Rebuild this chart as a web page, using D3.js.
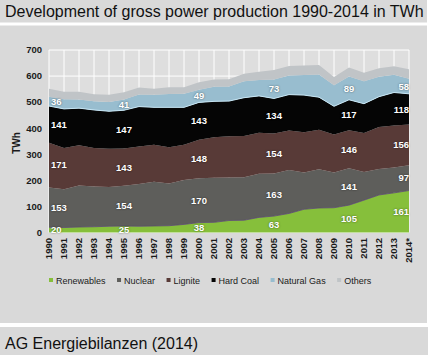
<!DOCTYPE html>
<html><head><meta charset="utf-8">
<script src="https://cdn.jsdelivr.net/npm/d3@7/dist/d3.min.js"></script>
<style>
html,body{margin:0;padding:0;background:#fff;}
svg{display:block;font-family:Arial,"Liberation Sans",sans-serif;}
.lbl{text-shadow:0 0 2px rgba(0,0,0,0.55);}
</style></head>
<body><svg id="c" width="430" height="355"></svg>
<script>
const years = [1990,1991,1992,1993,1994,1995,1996,1997,1998,1999,2000,2001,2002,2003,2004,2005,2006,2007,2008,2009,2010,2011,2012,2013,2014];
const yearLabels = ["1990","1991","1992","1993","1994","1995","1996","1997","1998","1999","2000","2001","2002","2003","2004","2005","2006","2007","2008","2009","2010","2011","2012","2013","2014*"];
const renewables = [20,19,21,22,24,25,24,25,26,31,38,39,46,47,58,63,73,89,94,95,105,124,144,152,161];
const nuclear    = [153,147,159,154,151,154,162,170,162,170,170,171,165,165,167,163,167,141,149,135,141,108,100,97,97];
const lignite    = [171,158,155,148,146,143,144,142,139,136,148,155,158,158,158,154,151,155,151,146,146,150,161,161,156];
const hardCoal   = [141,150,142,146,144,147,153,143,153,143,143,138,135,147,141,134,138,142,125,108,117,112,116,127,118];
const naturalGas = [36,37,33,33,36,41,46,48,51,52,49,56,56,63,61,73,73,77,87,81,89,86,76,68,58];
const others     = [30,29,30,27,27,28,27,23,26,25,28,28,28,29,32,36,37,37,36,31,35,33,33,33,36];
const seriesNames = ["Renewables","Nuclear","Lignite","Hard Coal","Natural Gas","Others"];
const yTicks = [0,100,200,300,400,500,600,700];
const labelYears = [1990,1995,2000,2005,2010,2014];

const colors = ["#86bf3b","#5e5e5b","#583a37","#050505","#98bdcf","#c0c4c7"];
const seriesData = [renewables,nuclear,lignite,hardCoal,naturalGas,others];

const svg = d3.select("#c");
const bg = "#d9d9d9";
svg.append("rect").attr("x",0).attr("y",0).attr("width",427).attr("height",22.5).attr("fill",bg);
svg.append("rect").attr("x",0).attr("y",25.5).attr("width",427).attr("height",297.5).attr("fill",bg);
svg.append("rect").attr("x",0).attr("y",327).attr("width",428).attr("height",28).attr("fill",bg);
svg.append("text").attr("x",5).attr("y",16.5).attr("font-size",16).attr("fill","#111")
  .text("Development of gross power production 1990-2014 in TWh");
svg.append("text").attr("x",5).attr("y",348.5).attr("font-size",16).attr("fill","#111")
  .text("AG Energiebilanzen (2014)");

const x = d3.scaleLinear().domain([1990,2014]).range([49,409]);
const y = d3.scaleLinear().domain([0,700]).range([232.5,50]);

// plot background + grid
svg.append("rect").attr("x",x(1990)).attr("y",y(700)).attr("width",x(2014)-x(1990)).attr("height",y(0)-y(700)).attr("fill","#dedede");
const g = svg.append("g");
g.selectAll("line.v").data(years).join("line").attr("x1",d=>x(d)).attr("x2",d=>x(d))
  .attr("y1",y(0)).attr("y2",y(700)).attr("stroke","#fff").attr("stroke-width",1);
g.selectAll("line.h").data(yTicks).join("line").attr("x1",x(1990)).attr("x2",x(2014))
  .attr("y1",d=>y(d)).attr("y2",d=>y(d)).attr("stroke","#fff").attr("stroke-width",1);

// stacked areas
const table = years.map((yr,i)=>{const o={year:yr}; seriesNames.forEach((n,k)=>o[n]=seriesData[k][i]); return o;});
const stack = d3.stack().keys(seriesNames)(table);
const area = d3.area().x(d=>x(d.data.year)).y0(d=>y(d[0])).y1(d=>y(d[1]));
svg.append("g").selectAll("path").data(stack).join("path")
  .attr("d",area).attr("fill",(d,i)=>colors[i]);
const line = d3.line().x(d=>x(d.data.year)).y(d=>y(d[0]));
svg.append("path").attr("d",line(stack[4])).attr("fill","none").attr("stroke","#c6e6f5").attr("stroke-width",1);
svg.append("path").attr("d",line(stack[1])).attr("fill","none").attr("stroke","#5a4d6b").attr("stroke-width",0.8);

// y axis
svg.append("g").selectAll("text").data(yTicks).join("text")
  .attr("x",42).attr("y",d=>y(d)).attr("dy","0.35em").attr("text-anchor","end")
  .attr("font-size",9.5).attr("font-weight","bold").attr("fill","#1a1a1a").text(d=>d);
svg.append("text").attr("transform","translate(16,143) rotate(-90)").attr("text-anchor","middle").attr("dy","0.35em")
  .attr("font-size",10).attr("font-weight","bold").attr("fill","#1a1a1a").text("TWh");

// x axis
svg.append("g").selectAll("text").data(years).join("text")
  .attr("transform",d=>`translate(${x(d)},238) rotate(-90)`).attr("dy","0.35em").attr("text-anchor","end")
  .attr("font-size",9.5).attr("font-weight","bold").attr("fill","#1a1a1a").text((d,i)=>yearLabels[i]);

// data labels
const lab = svg.append("g");
stack.slice(0,5).forEach((s)=>{
  labelYears.forEach(yr=>{
    const d = s[years.indexOf(yr)];
    const anchor = yr===1990?"start":(yr===2014?"end":"middle");
    const dx = yr===1990?2:0;
    lab.append("text").attr("class","lbl").attr("x",x(yr)+dx).attr("y",y((d[0]+d[1])/2)).attr("dy","0.35em")
      .attr("text-anchor",anchor).attr("font-size",9.5).attr("font-weight","bold").attr("fill","#fff")
      .text(Math.round(d[1]-d[0]));
  });
});

// legend
const leg = svg.append("g");
let lx = 49;
seriesNames.forEach((n,i)=>{
  leg.append("rect").attr("x",lx).attr("y",278).attr("width",4).attr("height",4).attr("fill",colors[i]);
  const t = leg.append("text").attr("x",lx+7).attr("y",284).attr("font-size",9).attr("fill","#1a1a1a").text(n);
  lx += 7 + t.node().getComputedTextLength() + 11.5;
});
</script></body></html>
